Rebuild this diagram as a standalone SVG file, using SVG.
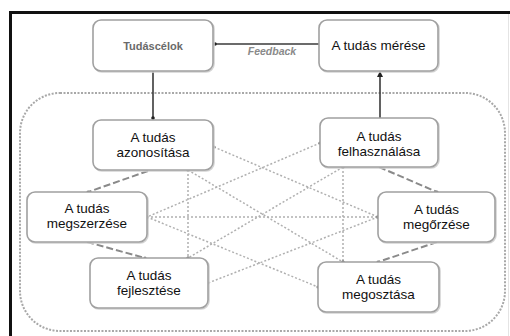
<svg xmlns="http://www.w3.org/2000/svg" width="510" height="336" viewBox="0 0 510 336">
<style>
.box{fill:#fff;stroke:#a0a0a0;stroke-width:1.6}
.shd{fill:none;stroke:#d4d4d4;stroke-width:1.6}
.t{font-family:"Liberation Sans",Arial,sans-serif;font-size:13.5px;fill:#111;text-anchor:middle}
.solid{stroke:#3a3a3a;stroke-width:1.6;fill:none}
.dash{stroke:#8a8a8a;stroke-width:2;stroke-dasharray:7 3;fill:none}
.dot{stroke:#b0b0b0;stroke-width:1.5;stroke-dasharray:2 2;fill:none}
</style>
<defs>
<marker id="dd" viewBox="0 0 4 4" refX="2" refY="2" markerWidth="4" markerHeight="4" markerUnits="userSpaceOnUse"><circle cx="2" cy="2" r="1.8" fill="#222"/></marker>
<marker id="dg" viewBox="0 0 4 4" refX="2" refY="2" markerWidth="3.5" markerHeight="3.5" markerUnits="userSpaceOnUse"><circle cx="2" cy="2" r="1.8" fill="#777"/></marker>
<marker id="ar" viewBox="0 0 6 6" refX="5" refY="3" markerWidth="6" markerHeight="6" markerUnits="userSpaceOnUse" orient="auto"><path d="M0,0 L6,3 L0,6 z" fill="#222"/></marker>
</defs>
<rect width="510" height="336" fill="#fff"/>
<path d="M10.5,336 V12.5 H510" fill="none" stroke="#111" stroke-width="3"/>
<line x1="508.5" y1="14" x2="508.5" y2="336" stroke="#e4e4e4" stroke-width="1"/>
<rect x="20" y="93" width="485" height="238" rx="40" ry="40" fill="none" stroke="#a8a8a8" stroke-width="2" stroke-dasharray="2 1.5"/>
<g id="connectors">
<line class="solid" x1="153" y1="71" x2="153" y2="118" marker-end="url(#dd)"/>
<line class="solid" x1="380" y1="118" x2="380" y2="72" marker-end="url(#ar)"/>
<line class="solid" x1="319" y1="44" x2="215" y2="44" marker-end="url(#dd)"/>
<text x="272" y="55" font-family="Liberation Sans, Arial, sans-serif" font-size="10.5" font-style="italic" font-weight="bold" fill="#8a8a8a" text-anchor="middle">Feedback</text>
<line class="dash" x1="148" y1="171" x2="88" y2="192" marker-end="url(#dg)"/>
<line class="dash" x1="87" y1="242" x2="145" y2="258" marker-end="url(#dg)"/>
<line class="dash" x1="379" y1="167" x2="437" y2="192" marker-end="url(#dg)"/>
<line class="dash" x1="437" y1="242" x2="378" y2="262" marker-end="url(#dg)"/>
<line class="dot" x1="214" y1="147" x2="378" y2="217" marker-start="url(#dg)" marker-end="url(#dg)"/>
<line class="dot" x1="320" y1="143" x2="147" y2="217" marker-start="url(#dg)" marker-end="url(#dg)"/>
<line class="dot" x1="147" y1="217" x2="378" y2="217" marker-start="url(#dg)" marker-end="url(#dg)"/>
<line class="dot" x1="188" y1="170" x2="188" y2="258" marker-start="url(#dg)" marker-end="url(#dg)"/>
<line class="dot" x1="343" y1="167" x2="343" y2="262" marker-start="url(#dg)" marker-end="url(#dg)"/>
<line class="dot" x1="188" y1="170" x2="343" y2="262" marker-start="url(#dg)" marker-end="url(#dg)"/>
<line class="dot" x1="343" y1="167" x2="188" y2="258" marker-start="url(#dg)" marker-end="url(#dg)"/>
<line class="dot" x1="147" y1="217" x2="318" y2="287" marker-start="url(#dg)" marker-end="url(#dg)"/>
<line class="dot" x1="378" y1="217" x2="208" y2="283" marker-start="url(#dg)" marker-end="url(#dg)"/>
</g>
<g id="tudascelok">
<rect class="shd" x="94" y="21" width="120" height="51" rx="8"/>
<rect class="box" x="93" y="20" width="120" height="51" rx="8"/>
<text x="153" y="50" font-family="Liberation Sans, Arial, sans-serif" font-size="11" font-weight="bold" fill="#6a6a6a" text-anchor="middle">Tudáscélok</text>
</g>
<g id="meres">
<rect class="shd" x="320" y="21" width="119" height="51" rx="8"/>
<rect class="box" x="319" y="20" width="119" height="51" rx="8"/>
<text class="t" x="378.5" y="50">A tudás mérése</text>
</g>
<g id="azonositas">
<rect class="shd" x="94" y="121" width="120" height="50" rx="8"/>
<rect class="box" x="93" y="120" width="120" height="50" rx="8"/>
<text class="t" x="153" y="142">A tudás</text>
<text class="t" x="153" y="157">azonosítása</text>
</g>
<g id="felhasznalas">
<rect class="shd" x="321" y="119" width="118" height="49" rx="8"/>
<rect class="box" x="320" y="118" width="118" height="49" rx="8"/>
<text class="t" x="379" y="141">A tudás</text>
<text class="t" x="379" y="156">felhasználása</text>
</g>
<g id="megszerzes">
<rect class="shd" x="28" y="193" width="120" height="50" rx="8"/>
<rect class="box" x="27" y="192" width="120" height="50" rx="8"/>
<text class="t" x="87" y="213">A tudás</text>
<text class="t" x="87" y="228">megszerzése</text>
</g>
<g id="megorzes">
<rect class="shd" x="379" y="193" width="117" height="50" rx="8"/>
<rect class="box" x="378" y="192" width="117" height="50" rx="8"/>
<text class="t" x="436.5" y="214">A tudás</text>
<text class="t" x="436.5" y="229">megőrzése</text>
</g>
<g id="fejlesztes">
<rect class="shd" x="91" y="259" width="118" height="50" rx="8"/>
<rect class="box" x="90" y="258" width="118" height="50" rx="8"/>
<text class="t" x="149" y="280">A tudás</text>
<text class="t" x="149" y="295">fejlesztése</text>
</g>
<g id="megosztas">
<rect class="shd" x="319" y="263" width="121" height="50" rx="8"/>
<rect class="box" x="318" y="262" width="121" height="50" rx="8"/>
<text class="t" x="378.5" y="284">A tudás</text>
<text class="t" x="378.5" y="299">megosztása</text>
</g>
</svg>
